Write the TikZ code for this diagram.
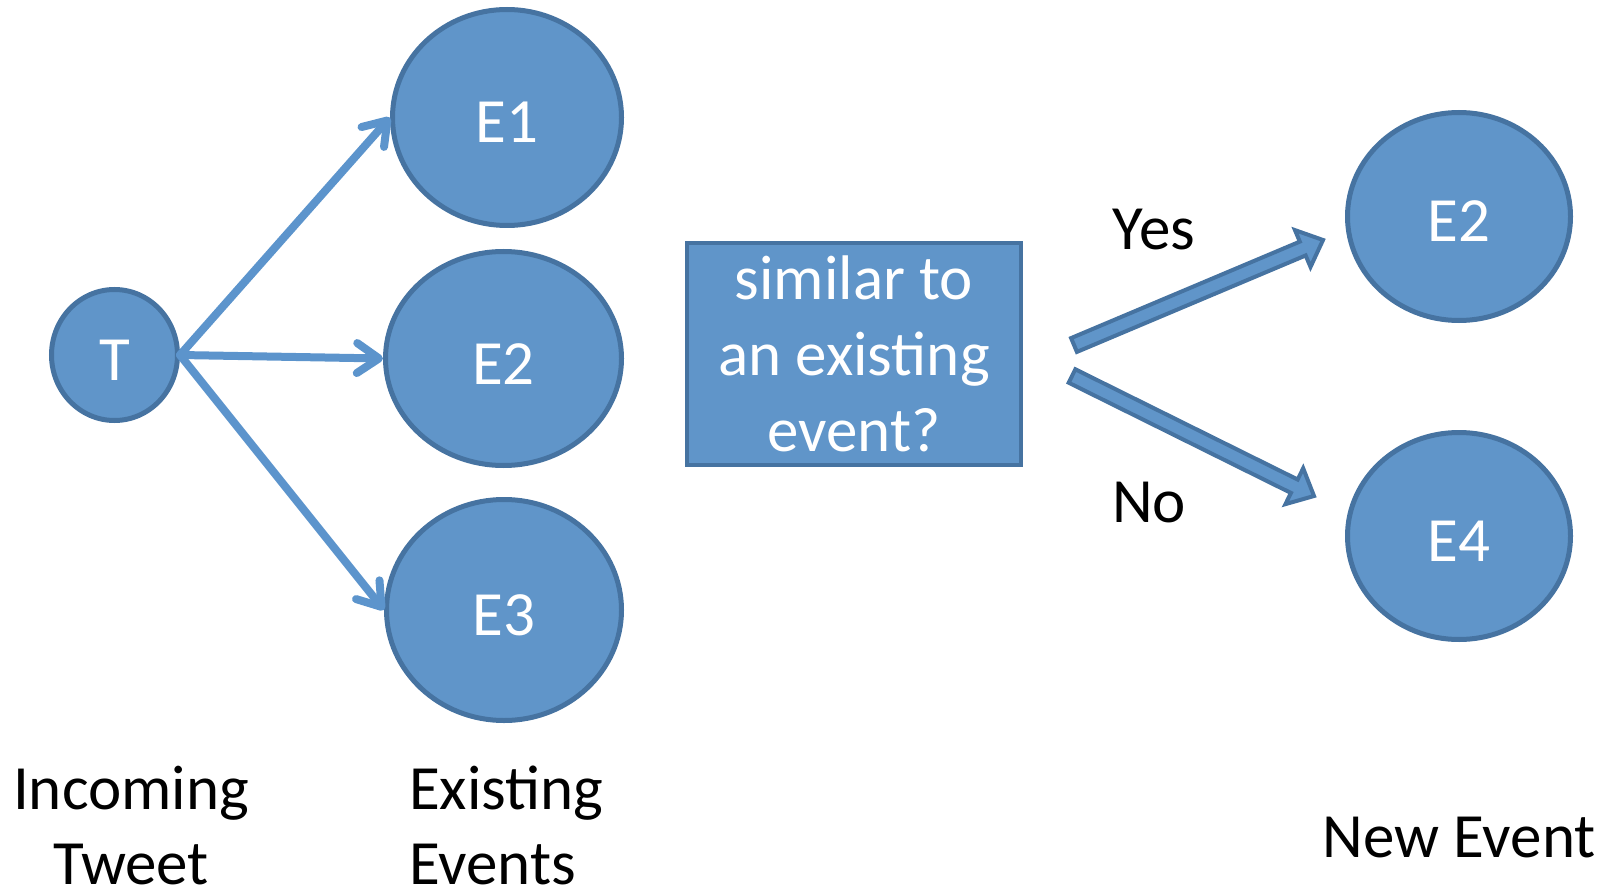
\documentclass[tikz,border=0pt]{standalone}
\usepackage{fontspec}
\setmainfont{Carlito}
\usetikzlibrary{shapes.geometric,arrows.meta,calc}

\definecolor{evfill}{RGB}{96,149,201}
\definecolor{evline}{RGB}{70,115,161}
\definecolor{linkc}{RGB}{92,148,204}

% wide outlined arrow from tail #1 to tip #2
\newcommand\blockarrow[2]{%
  \coordinate (ba-c) at ($(#2)!22pt!(#1)$);
  \filldraw[fatarrow]
    ($(#1)!7.5pt!90:(#2)$) -- ($(ba-c)!7.5pt!-90:(#1)$) -- ($(ba-c)!20pt!-90:(#1)$)
    -- (#2) -- ($(ba-c)!20pt!90:(#1)$) -- ($(ba-c)!7.5pt!90:(#1)$)
    -- ($(#1)!7.5pt!-90:(#2)$) -- cycle;
}

\begin{document}
\begin{tikzpicture}[x=1pt,y=-1pt,
  event/.style={ellipse, draw=evline, fill=evfill, line width=5pt, text=white,
    font=\fontsize{63}{76}\selectfont, inner sep=0pt, text height=51pt, text depth=0pt},
  question/.style={rectangle, draw=evline, fill=evfill, line width=4pt, text=white,
    font=\fontsize{63}{76}\selectfont, inner sep=0pt, align=center,
    minimum width=334pt, minimum height=222pt},
  link/.style={draw=linkc, line width=8pt, line cap=round,
    -{Straight Barb[length=22pt,width=30pt,line cap=round,line join=round]}},
  fatarrow/.style={draw=evline, fill=evfill, line width=4pt, line join=miter},
  caption/.style={font=\fontsize{63}{75}\selectfont, inner sep=0pt, text=black}
]
\useasboundingbox (0,0) rectangle (1611,893);

% incoming tweet and existing events
\node[event, minimum width=126pt, minimum height=131pt] (T) at (114.5,355) {T};
\node[event, minimum width=229pt, minimum height=216pt] (E1) at (507,117.5) {E1};
\node[event, minimum width=236pt, minimum height=214pt] (E2) at (503.5,358.5) {E2};
\node[event, minimum width=235pt, minimum height=221pt] (E3) at (504,610) {E3};

\draw[link] (T.east) -- (E1.west);
\draw[link] (T.east) -- (E2.west);
\draw[link] (T.east) -- (E3.west);

% decision
\node[question] (Q) at (854,354) {similar to\\an existing\\event?};

% outcomes
\node[event, minimum width=223pt, minimum height=208pt] (N2) at (1459,216.5) {E2};
\node[event, minimum width=223pt, minimum height=207pt] (N4) at (1459,536) {E4};

\coordinate (yes-tail) at (1074,345);
\coordinate (yes-tip) at (1323,240);
\coordinate (no-tail) at (1072,376);
\coordinate (no-tip) at (1314,496);
\blockarrow{yes-tail}{yes-tip}
\blockarrow{no-tail}{no-tip}

\node[caption, anchor=base] (yes) at (1154,250) {Yes};
\node[caption, anchor=base] (no) at (1149,522) {No};

% column captions
\node[caption, anchor=base, align=center] (cap-in) at (131,884) {Incoming\\Tweet};
\node[caption, anchor=base west, align=left] (cap-ex) at (409,884) {Existing\\Events};
\node[caption, anchor=base] (cap-new) at (1459,857) {New Event};
\end{tikzpicture}
\end{document}
